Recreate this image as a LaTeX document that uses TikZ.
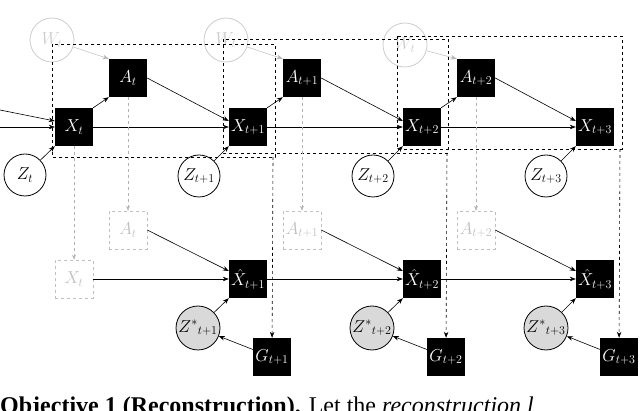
\documentclass[tikz,border=0pt]{standalone}
\usepackage{fontspec}
\setmainfont{Liberation Serif}
\usetikzlibrary{arrows.meta}
\begin{document}
\begin{tikzpicture}[x=1pt,y=-1pt,
 lf/.style={font=\fontsize{17}{19}\selectfont},
 bk/.style={lf,fill=black,text=white,minimum size=38pt,inner sep=0pt},
 gb/.style={lf,draw=black!25,dashed,text=black!25,minimum size=38pt,inner sep=0pt},
 zc/.style={lf,circle,draw,thick,minimum size=42pt,inner sep=0pt},
 sc/.style={lf,circle,draw,thick,fill=black!15,minimum size=44pt,inner sep=0pt},
 wc/.style={lf,circle,draw=black!20,thick,text=black!20,minimum size=44pt,inner sep=0pt},
 ar/.style={-{Stealth[length=6pt]},semithick},
 gar/.style={-{Stealth[length=6pt]},draw=black!30},
 gd/.style={-{Stealth[length=5pt]},draw=black!30,dashed},
 rb/.style={dashed,semithick}]
\useasboundingbox (0,0) rectangle (640,411);
\clip (0,0) rectangle (640,411);
% top row
\node[bk] (X0) at (74,127) {$X_t$};
\node[bk] (A0) at (128,78) {$A_t$};
\node[bk] (X1) at (248,127) {$X_{t+1}$};
\node[bk] (A1) at (302,78) {$A_{t+1}$};
\node[bk] (X2) at (422,127) {$X_{t+2}$};
\node[bk] (A2) at (476,78) {$A_{t+2}$};
\node[bk] (X3) at (595,127) {$X_{t+3}$};
\node[wc] (W0) at (52,40) {$W_t$};
\node[wc] (W1) at (226,40) {$W_t$};
\node[wc] (W2) at (405,45) {$W_t$};
\node[zc] (Z0) at (25,175) {$Z_t$};
\node[zc] (Z1) at (199,176) {$Z_{t+1}$};
\node[zc] (Z2) at (373,176) {$Z_{t+2}$};
\node[zc] (Z3) at (546,176) {$Z_{t+3}$};
\coordinate (in1) at (0,110);
\coordinate (in2) at (0,127);
\draw[ar] (in1) -- (X0.north west|-0,121);
\draw[ar] (in2) -- (X0);
\foreach \i/\j in {0/1,1/2,2/3}{
 \draw[ar] (X\i) -- (X\j);
 \draw[ar] (A\i.east) -- (X\j.west|-0,121);
}
\foreach \i in {0,1,2}{
 \draw[ar] (X\i.north east) -- (A\i.south west);
 \draw[gar] (W\i) -- (A\i.north west);
}
\foreach \i in {0,1,2,3}{ \draw[ar] (Z\i) -- (X\i.south west); }
% dashed boxes
\draw[rb] (52,44) rectangle (275,157);
\draw[rb] (223,39) rectangle (448,153);
\draw[rb] (397,36) rectangle (622,149);
% bottom row
\node[gb] (gX0) at (74,279) {$X_t$};
\node[gb] (gA0) at (128,230) {$A_t$};
\node[gb] (gA1) at (302,230) {$A_{t+1}$};
\node[gb] (gA2) at (476,230) {$A_{t+2}$};
\node[bk] (H1) at (248,279) {$\hat{X}_{t+1}$};
\node[bk] (H2) at (422,279) {$\hat{X}_{t+2}$};
\node[bk] (H3) at (595,279) {$\hat{X}_{t+3}$};
\node[sc] (S1) at (198,328) {$Z^*{}_{t+1}$};
\node[sc] (S2) at (372,328) {$Z^*{}_{t+2}$};
\node[sc] (S3) at (546,328) {$Z^*{}_{t+3}$};
\node[bk] (G1) at (272,357) {$G_{t+1}$};
\node[bk] (G2) at (446,357) {$G_{t+2}$};
\node[bk] (G3) at (619,357) {$G_{t+3}$};
\draw[gd] (X0) -- (gX0);
\draw[gd] (A0) -- (gA0);
\draw[gd] (A1) -- (gA1);
\draw[gd] (A2) -- (gA2);
\draw[ar] (gX0) -- (H1);
\draw[ar] (H1) -- (H2);
\draw[ar] (H2) -- (H3);
\draw[ar] (gA0.east) -- (H1.west|-0,271);
\draw[ar] (gA1.east) -- (H2.west|-0,271);
\draw[ar] (gA2.east) -- (H3.west|-0,271);
\foreach \i in {1,2,3}{
 \draw[ar] (S\i) -- (H\i.south west);
 \draw[ar] (G\i) -- (S\i);
}
\draw[ar,dashed] (273,157) -- (G1);
\draw[ar,dashed] (447,153) -- (G2);
\draw[ar,dashed] (620,149) -- (G3);
\node[anchor=north west,inner sep=0pt,font=\fontsize{24}{26}\selectfont] (cap) at (0,397) {\textbf{Objective 1 (Reconstruction).} Let the \textit{reconstruction l}};
\end{tikzpicture}
\end{document}
